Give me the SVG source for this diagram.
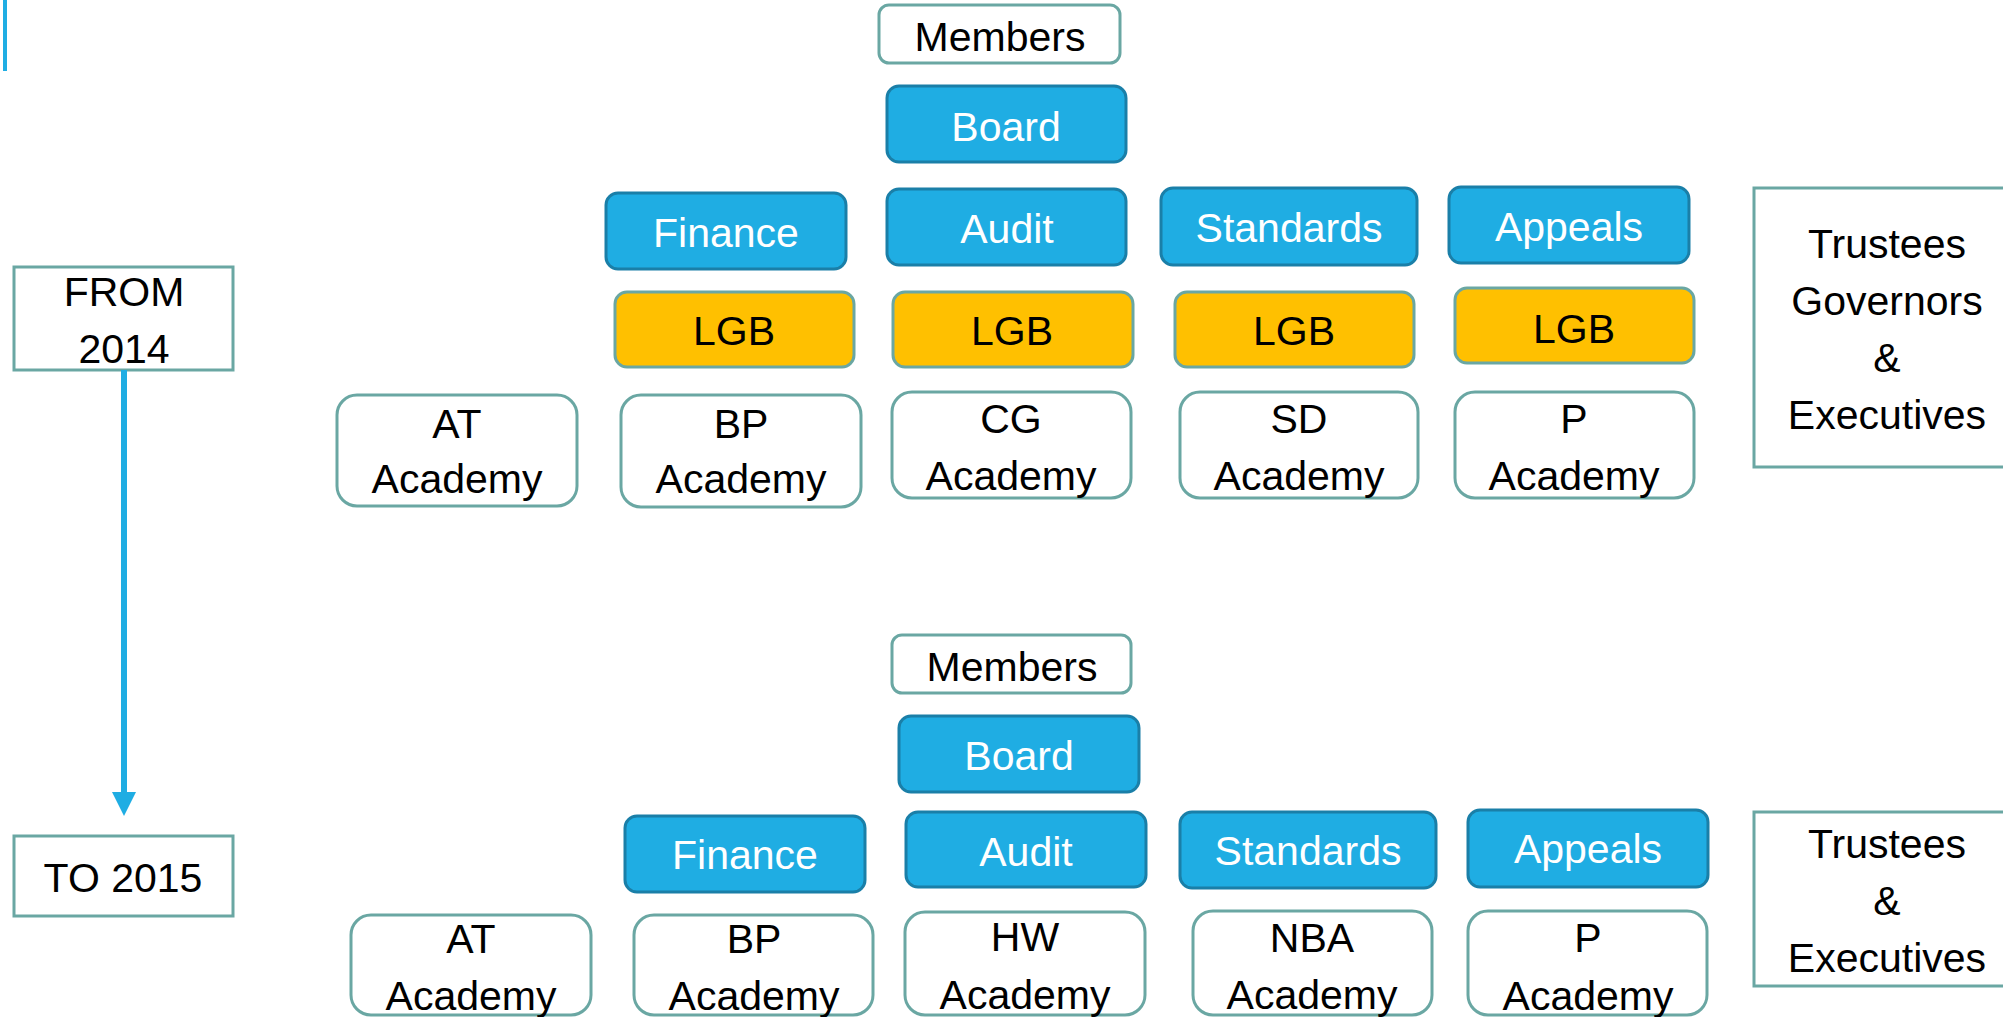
<svg xmlns="http://www.w3.org/2000/svg" width="2003" height="1017" viewBox="0 0 2003 1017">
  <defs>
    <style>
      text { font-family: "Liberation Sans", Arial, sans-serif; font-size: 41px; text-anchor: middle; fill: #000; }
      .blue rect { fill: #1fade3; stroke: #1a7fa8; stroke-width: 3; }
      .blue text { fill: #ffffff; }
      .lgb rect { fill: #ffc000; stroke: #6aa7a3; stroke-width: 3; }
      .plain rect { fill: #ffffff; stroke: #6aa7a3; stroke-width: 3; }
      .label rect { fill: #ffffff; stroke: #6aa7a3; stroke-width: 3; }
    </style>
  </defs>

  <rect width="2003" height="1017" fill="#ffffff"/>

  <!-- accent bar at top left -->
  <rect x="3" y="0" width="4" height="71" fill="#1fade3"/>

  <!-- timeline labels -->
  <g id="from-2014" class="label">
    <rect x="14" y="267" width="219" height="103"/>
    <text x="124" y="306">FROM</text>
    <text x="124" y="363">2014</text>
  </g>
  <g id="to-2015" class="label">
    <rect x="14" y="836" width="219" height="80"/>
    <text x="123" y="892">TO 2015</text>
  </g>

  <!-- connectors -->
  <g id="connectors">
    <line x1="124" y1="370" x2="124" y2="794" stroke="#1fade3" stroke-width="6"/>
    <polygon points="112,792 136,792 124,816" fill="#1fade3"/>
  </g>

  <!-- ===== 2014 structure ===== -->
  <g id="members-2014" class="plain">
    <rect x="879" y="5" width="241" height="58" rx="10"/>
    <text x="1000" y="51">Members</text>
  </g>
  <g id="board-2014" class="blue">
    <rect x="887" y="86" width="239" height="76" rx="12"/>
    <text x="1006" y="141">Board</text>
  </g>
  <g id="finance-2014" class="blue">
    <rect x="606" y="193" width="240" height="76" rx="12"/>
    <text x="726" y="247">Finance</text>
  </g>
  <g id="audit-2014" class="blue">
    <rect x="887" y="189" width="239" height="76" rx="12"/>
    <text x="1007" y="243">Audit</text>
  </g>
  <g id="standards-2014" class="blue">
    <rect x="1161" y="188" width="256" height="77" rx="12"/>
    <text x="1289" y="242">Standards</text>
  </g>
  <g id="appeals-2014" class="blue">
    <rect x="1449" y="187" width="240" height="76" rx="12"/>
    <text x="1569" y="241">Appeals</text>
  </g>

  <g id="lgb-1" class="lgb">
    <rect x="615" y="292" width="239" height="75" rx="12"/>
    <text x="734" y="345">LGB</text>
  </g>
  <g id="lgb-2" class="lgb">
    <rect x="893" y="292" width="240" height="75" rx="12"/>
    <text x="1012" y="345">LGB</text>
  </g>
  <g id="lgb-3" class="lgb">
    <rect x="1175" y="292" width="239" height="75" rx="12"/>
    <text x="1294" y="345">LGB</text>
  </g>
  <g id="lgb-4" class="lgb">
    <rect x="1455" y="288" width="239" height="75" rx="12"/>
    <text x="1574" y="343">LGB</text>
  </g>

  <g id="at-academy-2014" class="plain">
    <rect x="337" y="395" width="240" height="111" rx="20"/>
    <text x="457" y="438">AT</text>
    <text x="457" y="493">Academy</text>
  </g>
  <g id="bp-academy-2014" class="plain">
    <rect x="621" y="395" width="240" height="112" rx="20"/>
    <text x="741" y="438">BP</text>
    <text x="741" y="493">Academy</text>
  </g>
  <g id="cg-academy" class="plain">
    <rect x="892" y="392" width="239" height="106" rx="20"/>
    <text x="1011" y="433">CG</text>
    <text x="1011" y="490">Academy</text>
  </g>
  <g id="sd-academy" class="plain">
    <rect x="1180" y="392" width="238" height="106" rx="20"/>
    <text x="1299" y="433">SD</text>
    <text x="1299" y="490">Academy</text>
  </g>
  <g id="p-academy-2014" class="plain">
    <rect x="1455" y="392" width="239" height="106" rx="20"/>
    <text x="1574" y="433">P</text>
    <text x="1574" y="490">Academy</text>
  </g>

  <g id="roles-2014" class="label">
    <rect x="1754" y="188" width="300" height="279"/>
    <text x="1887" y="258">Trustees</text>
    <text x="1887" y="315">Governors</text>
    <text x="1887" y="372">&amp;</text>
    <text x="1887" y="429">Executives</text>
  </g>

  <!-- ===== 2015 structure ===== -->
  <g id="members-2015" class="plain">
    <rect x="892" y="635" width="239" height="58" rx="10"/>
    <text x="1012" y="681">Members</text>
  </g>
  <g id="board-2015" class="blue">
    <rect x="899" y="716" width="240" height="76" rx="12"/>
    <text x="1019" y="770">Board</text>
  </g>
  <g id="finance-2015" class="blue">
    <rect x="625" y="816" width="240" height="76" rx="12"/>
    <text x="745" y="869">Finance</text>
  </g>
  <g id="audit-2015" class="blue">
    <rect x="906" y="812" width="240" height="75" rx="12"/>
    <text x="1026" y="866">Audit</text>
  </g>
  <g id="standards-2015" class="blue">
    <rect x="1180" y="812" width="256" height="76" rx="12"/>
    <text x="1308" y="865">Standards</text>
  </g>
  <g id="appeals-2015" class="blue">
    <rect x="1468" y="810" width="240" height="77" rx="12"/>
    <text x="1588" y="863">Appeals</text>
  </g>

  <g id="at-academy-2015" class="plain">
    <rect x="351" y="915" width="240" height="100" rx="20"/>
    <text x="471" y="953">AT</text>
    <text x="471" y="1010">Academy</text>
  </g>
  <g id="bp-academy-2015" class="plain">
    <rect x="634" y="915" width="239" height="100" rx="20"/>
    <text x="754" y="953">BP</text>
    <text x="754" y="1010">Academy</text>
  </g>
  <g id="hw-academy" class="plain">
    <rect x="905" y="912" width="240" height="103" rx="20"/>
    <text x="1025" y="951">HW</text>
    <text x="1025" y="1009">Academy</text>
  </g>
  <g id="nba-academy" class="plain">
    <rect x="1193" y="911" width="239" height="104" rx="20"/>
    <text x="1312" y="952">NBA</text>
    <text x="1312" y="1009">Academy</text>
  </g>
  <g id="p-academy-2015" class="plain">
    <rect x="1468" y="911" width="239" height="104" rx="20"/>
    <text x="1588" y="952">P</text>
    <text x="1588" y="1010">Academy</text>
  </g>

  <g id="roles-2015" class="label">
    <rect x="1754" y="812" width="300" height="174"/>
    <text x="1887" y="858">Trustees</text>
    <text x="1887" y="915">&amp;</text>
    <text x="1887" y="972">Executives</text>
  </g>
</svg>
